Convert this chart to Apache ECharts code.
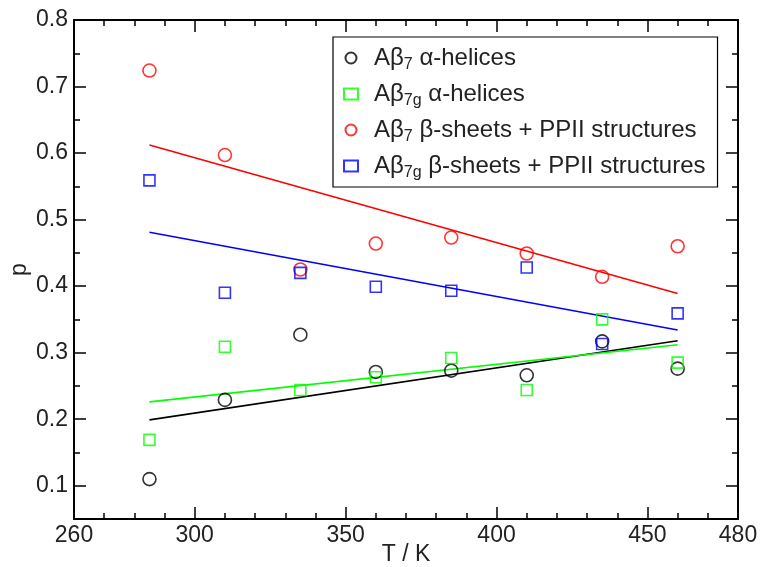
<!DOCTYPE html>
<html>
<head>
<meta charset="utf-8">
<script src="https://cdn.jsdelivr.net/npm/echarts@6/dist/echarts.min.js"></script>
<style>html,body{margin:0;padding:0;background:#fff;}#c{width:760px;height:567px;}</style>
</head>
<body>
<div id="c"></div>
<script>
// Temperatures (K)
var temps = [285, 310, 335, 360, 385, 410, 435, 460];
// Probabilities
var ab7Helix   = [0.110, 0.229, 0.327, 0.271, 0.273, 0.266, 0.317, 0.276];
var ab7gHelix  = [0.169, 0.309, 0.244, 0.263, 0.292, 0.244, 0.350, 0.285];
var ab7Sheet   = [0.724, 0.597, 0.425, 0.464, 0.473, 0.449, 0.414, 0.460];
var ab7gSheet  = [0.559, 0.390, 0.420, 0.399, 0.393, 0.428, 0.313, 0.359];
// Linear fit end points
var fitT          = [285, 460];
var fitAb7Helix   = [0.199, 0.318];
var fitAb7gHelix  = [0.226, 0.312];
var fitAb7Sheet   = [0.612, 0.389];
var fitAb7gSheet  = [0.481, 0.334];
// Tick labels
var xLabels = [260, 300, 350, 400, 450, 480];
var xMajor  = [300, 350, 400, 450];
var yLabels = [0.1, 0.2, 0.3, 0.4, 0.5, 0.6, 0.7, 0.8];
// Series names
var names = ['Aβ7 α-helices', 'Aβ7g α-helices', 'Aβ7 β-sheets + PPII structures', 'Aβ7g β-sheets + PPII structures'];
var richNames = {
  'Aβ7 α-helices': '{sp|}{t|Aβ}{s|7}{t| α-helices}',
  'Aβ7g α-helices': '{sp|}{t|Aβ}{s|7g}{t| α-helices}',
  'Aβ7 β-sheets + PPII structures': '{sp|}{t|Aβ}{s|7}{t| β-sheets + PPII structures}',
  'Aβ7g β-sheets + PPII structures': '{sp|}{t|Aβ}{s|7g}{t| β-sheets + PPII structures}'
};

var FONT = 'Liberation Sans, Arial, Helvetica, sans-serif';
function pairs(xs, ys) { return xs.map(function (x, i) { return [x, ys[i]]; }); }

function scatter(name, ys, symbol, size, color) {
  return {
    name: name, type: 'scatter', data: pairs(temps, ys),
    symbol: symbol, symbolSize: size, z: 3,
    itemStyle: { color: 'transparent', borderColor: color, borderWidth: 1.6 }
  };
}
function fit(name, ys, color) {
  return {
    name: name, type: 'line', data: pairs(fitT, ys), symbol: 'none', z: 2,
    lineStyle: { color: color, width: 1.6 }, silent: true
  };
}

function xAx(pos, major, labels) {
  return {
    type: 'value', position: pos, min: 260, max: 480, interval: 10,
    axisLine: { show: !major, onZero: false, lineStyle: { color: '#000', width: 2 } },
    axisTick: major ? { show: true, inside: true, length: 12, customValues: xMajor, lineStyle: { color: '#000', width: 1.5 } }
                    : { show: true, inside: true, length: 6, lineStyle: { color: '#000', width: 1.5 } },
    axisLabel: labels ? { show: true, customValues: xLabels, fontSize: 23, color: '#222', fontFamily: FONT, margin: 5 } : { show: false },
    splitLine: { show: false }
  };
}
function yAx(pos, major, labels) {
  return {
    type: 'value', position: pos, min: 0.05, max: 0.8, interval: 0.05,
    axisLine: { show: !major, onZero: false, lineStyle: { color: '#000', width: 2 } },
    axisTick: major ? { show: true, inside: true, length: 12, customValues: yLabels, lineStyle: { color: '#000', width: 1.5 } }
                    : { show: true, inside: true, length: 6, lineStyle: { color: '#000', width: 1.5 } },
    axisLabel: labels ? { show: true, customValues: yLabels, fontSize: 23, color: '#222', fontFamily: FONT, margin: 6 } : { show: false },
    splitLine: { show: false }
  };
}

var xAxes = [xAx('bottom', false, true), xAx('bottom', true, false), xAx('top', false, false), xAx('top', true, false)];
xAxes[0].name = 'T / K';
xAxes[0].nameLocation = 'middle';
xAxes[0].nameGap = 24;
xAxes[0].nameMoveOverlap = false;
xAxes[0].nameTextStyle = { fontSize: 23, color: '#222', fontFamily: FONT };
var yAxes = [yAx('left', false, true), yAx('left', true, false), yAx('right', false, false), yAx('right', true, false)];
yAxes[0].name = 'p';
yAxes[0].nameLocation = 'middle';
yAxes[0].nameGap = 43;
yAxes[0].nameMoveOverlap = false;
yAxes[0].nameTextStyle = { fontSize: 23, color: '#222', fontFamily: FONT };

var chart = echarts.init(document.getElementById('c'), null, { renderer: 'canvas' });
chart.setOption({
  animation: false,
  backgroundColor: '#fff',
  grid: { left: 74, right: 22, top: 20, bottom: 48, containLabel: false, outerBoundsMode: 'none' },
  xAxis: xAxes,
  yAxis: yAxes,
  legend: {
    data: [
      { name: names[0], icon: 'circle' },
      { name: names[1], icon: 'rect' },
      { name: names[2], icon: 'circle' },
      { name: names[3], icon: 'rect' }
    ],
    orient: 'vertical', left: 333, top: 37,
    padding: [9, 12, 6, 10],
    itemGap: 9, itemWidth: 14, itemHeight: 11,
    borderColor: '#000', borderWidth: 1.2, borderRadius: 0,
    backgroundColor: '#fff',
    selectedMode: false,
    formatter: function (n) { return richNames[n]; },
    textStyle: {
      fontFamily: FONT, color: '#222',
      rich: {
        sp: { width: 11 },
        t: { fontSize: 24, lineHeight: 30, fontFamily: FONT, color: '#222' },
        s: { fontSize: 16, lineHeight: 14, verticalAlign: 'bottom', fontFamily: FONT, color: '#222' }
      }
    }
  },
  series: [
    fit('fit1', fitAb7Helix, '#000'),
    fit('fit2', fitAb7gHelix, '#00ff00'),
    fit('fit3', fitAb7Sheet, '#ff0000'),
    fit('fit4', fitAb7gSheet, '#0000ff'),
    scatter(names[0], ab7Helix, 'circle', 13, '#000'),
    scatter(names[1], ab7gHelix, 'rect', 11, '#00ff00'),
    scatter(names[2], ab7Sheet, 'circle', 13, '#ff0000'),
    scatter(names[3], ab7gSheet, 'rect', 11, '#0000ff')
  ]
});
</script>
</body>
</html>
